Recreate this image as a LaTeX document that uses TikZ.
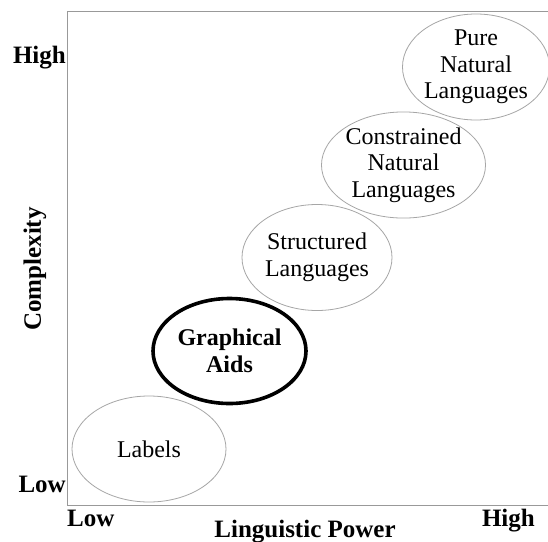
\documentclass[tikz,border=0pt]{standalone}
\usepackage{fontspec}
\setmainfont{Liberation Serif}
\usetikzlibrary{shapes.geometric}
\tikzset{
  bubble/.style={draw=black!35, line width=0.8pt, ellipse, inner sep=0pt, align=center,
    font=\fontsize{24}{26.6}\selectfont},
  focus/.style={bubble, draw=black, line width=3.6pt, font=\fontsize{24}{26.6}\selectfont\bfseries},
  axislabel/.style={font=\fontsize{25}{27}\selectfont\bfseries, inner sep=0pt},
  frame/.style={draw=black!40, line width=0.9pt}
}
\begin{document}
\begin{tikzpicture}[x=1pt,y=-1pt]
\useasboundingbox (0,0) rectangle (548,541);
\fill[white] (0,0) rectangle (548,541);
\draw[frame] (549,11) -- (67,11) -- (67,505) -- (549,505);

\node[bubble, minimum width=154pt, minimum height=106pt] (labels) at (149,449) {Labels};
\node[focus, minimum width=153pt, minimum height=105pt] (graph) at (229.5,351) {Graphical\\Aids};
\node[bubble, minimum width=150pt, minimum height=106pt] (struct) at (317,257.5) {Structured\\Languages};
\node[bubble, minimum width=153pt, minimum height=106pt] (constr) at (403.5,165) {Constrained\\Natural\\Languages};
\node[bubble, minimum width=145pt, minimum height=106pt] (pure) at (476,67) {Pure\\Natural\\Languages};

\node[axislabel, anchor=base east] (yhigh) at (66,63) {High};
\node[axislabel, anchor=base east] (ylow) at (66,492) {Low};
\node[axislabel, anchor=base west] (xlow) at (67,526) {Low};
\node[axislabel, anchor=base east] (xhigh) at (535,526) {High};
\node[axislabel, anchor=base] (xtitle) at (305,537) {Linguistic Power};
\node[axislabel, rotate=90] (ytitle) at (35,269) {Complexity};
\end{tikzpicture}
\end{document}
